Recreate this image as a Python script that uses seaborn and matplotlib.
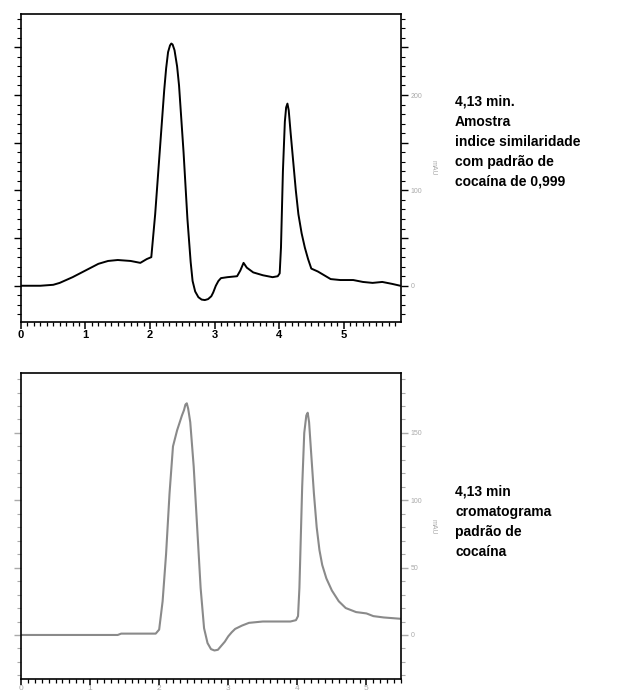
import matplotlib
matplotlib.use("Agg")
import matplotlib.pyplot as plt
from matplotlib.ticker import MultipleLocator
import seaborn as sns
import pandas as pd

sns.set_style("white")
plt.rcParams['font.family'] = ['Liberation Sans', 'DejaVu Sans']

# Sample chromatogram (time in min, signal in mAU)
sample_time = [0.0, 0.3, 0.5, 0.6, 0.8, 1.0, 1.2, 1.35, 1.5, 1.7, 1.85, 1.95, 2.02,
               2.08, 2.15, 2.22, 2.25, 2.28, 2.31, 2.33, 2.35, 2.38, 2.42, 2.45, 2.52,
               2.58, 2.63, 2.66, 2.7, 2.75, 2.8, 2.85, 2.9, 2.95, 2.98, 3.02, 3.06,
               3.1, 3.2, 3.35, 3.4, 3.45, 3.5, 3.6, 3.75, 3.9, 3.98, 4.01, 4.03,
               4.06, 4.09, 4.11, 4.13, 4.15, 4.18, 4.22, 4.26, 4.3, 4.35, 4.4, 4.45,
               4.5, 4.6, 4.7, 4.8, 4.95, 5.15, 5.3, 5.45, 5.6, 5.75, 5.88]
sample_mau = [0, 0, 1, 3, 9, 16, 23, 26, 27, 26, 24, 28, 30,
              75, 140, 205, 228, 245, 252, 254, 253, 247, 230, 210, 140,
              70, 25, 5, -6, -12, -14.5, -15, -14, -11, -7, 0, 5,
              8, 9, 10, 16, 24, 19, 14, 11, 9, 10, 13, 40,
              120, 172, 187, 191, 184, 160, 130, 100, 75, 55, 40, 28,
              18, 15, 11, 7, 6, 6, 4, 3, 4, 2, 0]

# Standard cocaine chromatogram
std_time = [0.0, 0.5, 1.0, 1.4, 1.45, 1.8, 1.95, 2.0, 2.05, 2.1, 2.15, 2.2, 2.26,
            2.33, 2.36, 2.38, 2.4, 2.42, 2.45, 2.5, 2.55, 2.6, 2.65, 2.7, 2.75,
            2.8, 2.85, 2.9, 2.95, 3.0, 3.05, 3.1, 3.2, 3.3, 3.5, 3.9, 3.98, 4.01,
            4.03, 4.07, 4.1, 4.13, 4.15, 4.17, 4.2, 4.24, 4.28, 4.32, 4.36, 4.42,
            4.5, 4.6, 4.7, 4.85, 5.0, 5.1, 5.25, 5.5]
std_mau = [0, 0, 0, 0, 1, 1, 1, 4, 25, 60, 105, 140, 152,
           163, 167, 171, 172, 168, 158, 125, 80, 35, 5, -6, -10.5,
           -11.5, -11, -8, -5, -1, 2, 4.5, 7, 9, 10, 10, 11, 14,
           35, 110, 150, 163, 165, 158, 135, 105, 80, 63, 52, 42,
           33, 25, 20, 17, 16, 14, 13, 12]

top_text = ["4,13 min.", "Amostra", "indice similaridade", "com padrão de", "cocaína de 0,999"]
bottom_text = ["4,13 min", "cromatograma", "padrão de", "cocaína"]

fig = plt.figure(figsize=(6.28, 6.95), dpi=100)
ax1 = fig.add_axes([0.0334, 0.5367, 0.6051, 0.4432])
ax2 = fig.add_axes([0.0334, 0.0230, 0.6051, 0.4403])

df1 = pd.DataFrame({"t": sample_time, "mAU": sample_mau})
df2 = pd.DataFrame({"t": std_time, "mAU": std_mau})
sns.lineplot(data=df1, x="t", y="mAU", ax=ax1, color="black", lw=1.4)
sns.lineplot(data=df2, x="t", y="mAU", ax=ax2, color="#8a8a8a", lw=1.5)

def style(ax, xmax, ylo, yhi, lblcol, xcol, xbold, leftcol, xsize):
    ax.set_xlim(0, xmax)
    ax.set_ylim(ylo, yhi)
    ax.set_xlabel("")
    ax.set_ylabel("")
    for s in ax.spines.values():
        s.set_visible(True)
        s.set_color("black")
        s.set_linewidth(1.2)
    ax.xaxis.set_major_locator(MultipleLocator(1))
    ax.xaxis.set_minor_locator(MultipleLocator(0.1))
    ax.yaxis.set_minor_locator(MultipleLocator(10))
    ax.tick_params(axis="x", which="both", direction="out", bottom=True, top=False,
                   colors=xcol, labelsize=xsize, pad=1)
    ax.tick_params(axis="x", which="major", length=5, width=1.1)
    ax.tick_params(axis="x", which="minor", length=3, width=0.9)
    ax.tick_params(axis="y", which="both", direction="out", left=True, right=True,
                   labelleft=False, labelright=True, color=leftcol,
                   labelcolor=lblcol, labelsize=5, pad=2)
    ax.tick_params(axis="y", which="major", length=5, width=1.0)
    ax.tick_params(axis="y", which="minor", length=3, width=0.8)
    for lab in ax.get_xticklabels():
        lab.set_fontweight("bold" if xbold else "normal")

style(ax1, 5.89, -38, 285, "#aaaaaa", "black", True, "black", 8)
ax1.set_yticks([0, 50, 100, 150, 200, 250])
ax1.set_yticklabels(["0", "", "100", "", "200", ""])
style(ax2, 5.5, -32.7, 194.5, "#aaaaaa", "#999999", False, "#aaaaaa", 6)
ax2.set_yticks([0, 50, 100, 150])
ax2.set_yticklabels(["0", "50", "100", "150"])
ax2.tick_params(axis="x", which="both", color="black", labelcolor="#aaaaaa", pad=0)
ax2.tick_params(axis="x", which="major", length=4)

fig.text(433 / 628, 1 - 168 / 695, "mAU", rotation=270, ha="center", va="center",
         fontsize=5, color="#aaaaaa")
fig.text(433 / 628, 1 - 527 / 695, "mAU", rotation=270, ha="center", va="center",
         fontsize=5, color="#aaaaaa")

for i, s in enumerate(top_text):
    fig.text(455 / 628, 1 - (102 + 20 * i) / 695, s, fontsize=10, fontweight="bold",
             ha="left", va="center", color="black")
for i, s in enumerate(bottom_text):
    fig.text(455 / 628, 1 - (492 + 20 * i) / 695, s, fontsize=10, fontweight="bold",
             ha="left", va="center", color="black")

fig.savefig("out.png", dpi=100)
